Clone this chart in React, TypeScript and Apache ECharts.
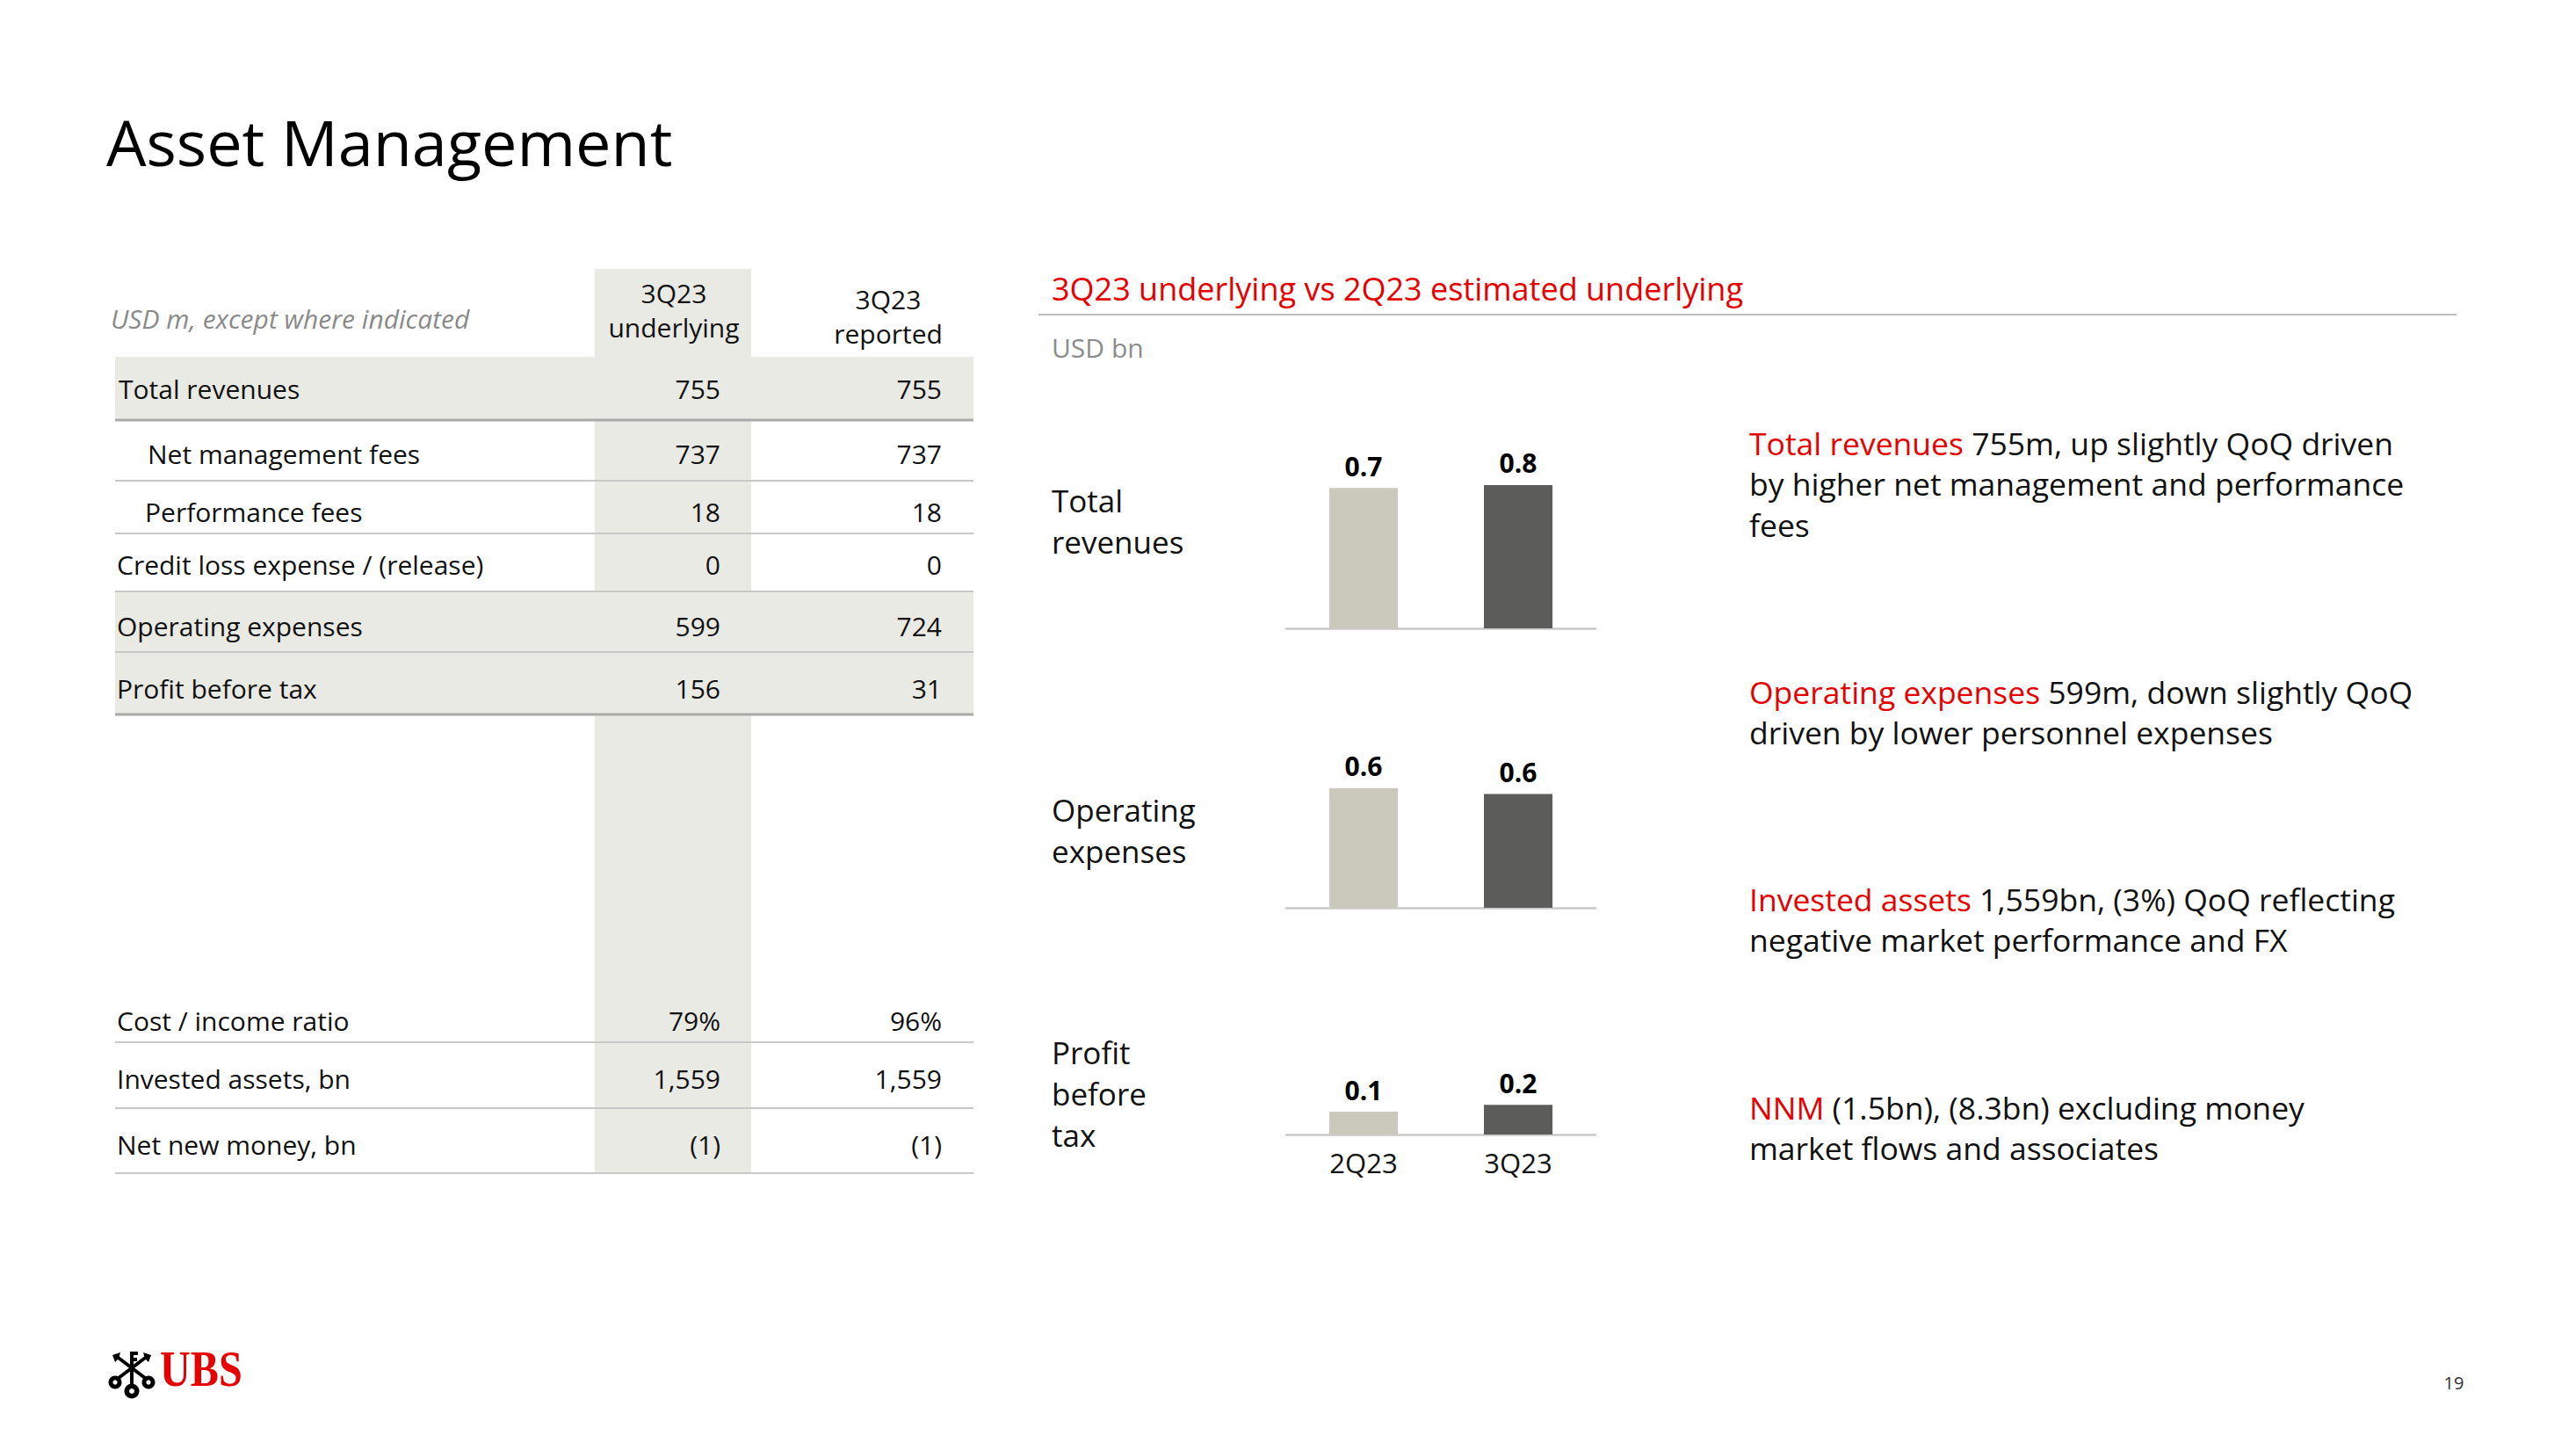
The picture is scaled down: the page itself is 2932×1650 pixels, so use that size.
import React, { useEffect, useRef } from "react";
import * as echarts from "echarts";

// ---------- data ----------
const quarters = ["2Q23", "3Q23"];
const panelLabels = ["Total\nrevenues", "Operating\nexpenses", "Profit\nbefore\ntax"];
const totalRevenues = [0.74, 0.755];
const operatingExpenses = [0.63, 0.599];
const profitBeforeTax = [0.12, 0.156];

const tableRowLabels = [
  "Total revenues",
  "Net management fees",
  "Performance fees",
  "Credit loss expense / (release)",
  "Operating expenses",
  "Profit before tax",
  "Cost / income ratio",
  "Invested assets, bn",
  "Net new money, bn",
];
const underlyingValues = ["755", "737", "18", "0", "599", "156", "79%", "1,559", "(1)"];
const reportedValues = ["755", "737", "18", "0", "724", "31", "96%", "1,559", "(1)"];
const columnHeaders = ["3Q23\nunderlying", "3Q23\nreported"];

const highlightWords = ["Total revenues", "Operating expenses", "Invested assets", "NNM"];
const commentary = [
  " 755m, up slightly QoQ driven\nby higher net management and performance\nfees",
  " 599m, down slightly QoQ\ndriven by lower personnel expenses",
  " 1,559bn, (3%) QoQ reflecting\nnegative market performance and FX",
  " (1.5bn), (8.3bn) excluding money\nmarket flows and associates",
];

// ---------- style ----------
const FONT = '"Open Sans", "Noto Sans", sans-serif';
const RED = "#E60000";
const LIGHT_BAR = "#CBC9BB";
const DARK_BAR = "#5C5D5B";
const SHADE = "#EAEAE5";

function txt(x: number, y: number, text: string, o: any = {}) {
  return {
    type: "text",
    x,
    y,
    z: 10,
    scaleX: o.scaleX ?? 1,
    style: {
      text,
      fontSize: o.fontSize ?? 30,
      fontFamily: o.fontFamily ?? FONT,
      fontWeight: o.fontWeight ?? "normal",
      fontStyle: o.fontStyle ?? "normal",
      fill: o.fill ?? "#000",
      textAlign: o.align ?? "left",
      textVerticalAlign: o.vAlign ?? "middle",
      lineHeight: o.lineHeight,
      rich: o.rich,
    },
  };
}

function rect(x: number, y: number, w: number, h: number, fill: string, z = 1) {
  return { type: "rect", z, shape: { x, y, width: w, height: h }, style: { fill } };
}

function hline(x1: number, x2: number, y: number, stroke: string, lw: number) {
  return {
    type: "line",
    z: 5,
    shape: { x1, y1: y, x2, y2: y },
    style: { stroke, lineWidth: lw },
  };
}

export default function App() {
  const ref = useRef<HTMLDivElement>(null);

  useEffect(() => {
    document.body.style.margin = "0";
    const chart = echarts.init(ref.current!, null, { renderer: "svg" });

    // ----- table layout -----
    const tblLeft = 131;
    const tblRight = 1108;
    const rowY = [442, 516, 582, 642, 712, 783, 1161, 1227, 1302];
    const rowX = [135, 168, 165, 133, 133, 133, 133, 133, 133];
    const lineY = [478, 547, 607, 673, 742, 813, 1186, 1261, 1335];
    const lineDark = [true, false, false, false, false, true, false, false, false];

    const graphic: any[] = [];
    // title
    graphic.push(txt(121, 161, "Asset Management", { fontSize: 72 }));
    // shaded column and bands
    graphic.push(rect(677, 306, 178, 1335 - 306, SHADE, 1));
    graphic.push(rect(tblLeft, 406, tblRight - tblLeft, 72, SHADE, 1));
    graphic.push(rect(tblLeft, 673, tblRight - tblLeft, 140, SHADE, 1));
    // header
    graphic.push(
      txt(126, 362, "USD m, except where indicated", { fontSize: 30, fontStyle: "italic", fill: "#8a8a8a" })
    );
    graphic.push(txt(767, 353, columnHeaders[0], { fontSize: 30, align: "center", lineHeight: 39, fill: "#111" }));
    graphic.push(txt(1011, 360, columnHeaders[1], { fontSize: 30, align: "center", lineHeight: 39, fill: "#111" }));
    // rows
    tableRowLabels.forEach((lab, i) => {
      graphic.push(txt(rowX[i], rowY[i], lab, { fontSize: 30, fill: "#111" }));
      graphic.push(txt(820, rowY[i], underlyingValues[i], { fontSize: 30, align: "right", fill: "#111" }));
      graphic.push(txt(1072, rowY[i], reportedValues[i], { fontSize: 30, align: "right", fill: "#111" }));
      graphic.push(hline(tblLeft, tblRight, lineY[i], lineDark[i] ? "#a9a9a9" : "#c8c8c8", lineDark[i] ? 3 : 2));
    });

    // ----- chart side texts -----
    graphic.push(txt(1197, 328, "3Q23 underlying vs 2Q23 estimated underlying", { fontSize: 36, fill: RED }));
    graphic.push(hline(1182, 2796, 358, "#bdbdbd", 2));
    graphic.push(txt(1197, 395, "USD bn", { fontSize: 30, fill: "#8c8c8c" }));
    const panelLabelY = [593, 945, 1244];
    panelLabels.forEach((lab, i) => {
      graphic.push(txt(1197, panelLabelY[i], lab, { fontSize: 35, lineHeight: 47, fill: "#111" }));
    });

    // commentary
    const paraY = [550, 810, 1046, 1283];
    highlightWords.forEach((w, i) => {
      graphic.push(
        txt(1991, paraY[i], `{r|${w}}${commentary[i]}`, {
          fontSize: 35.5,
          lineHeight: 46.5,
          fill: "#111",
          rich: { r: { fill: RED, fontSize: 35.5, fontFamily: FONT, lineHeight: 46.5 } },
        })
      );
    });

    // UBS logo
    const K = "#000";
    const logo: any[] = [];
    const dy = 5;
    [
      [131, 1568 + dy, 7.5],
      [150, 1578 + dy, 8.5],
      [169, 1568 + dy, 7.5],
    ].forEach(([cx, cy, r]) => {
      logo.push({ type: "circle", z: 10, shape: { cx, cy, r }, style: { fill: K } });
      logo.push({ type: "circle", z: 11, shape: { cx, cy, r: r * 0.35 }, style: { fill: "#fff" } });
    });
    logo.push({ type: "line", z: 10, shape: { x1: 150, y1: 1572 + dy, x2: 150, y2: 1533 + dy }, style: { stroke: K, lineWidth: 4 } });
    logo.push({ type: "line", z: 10, shape: { x1: 135, y1: 1563 + dy, x2: 168, y2: 1538 + dy }, style: { stroke: K, lineWidth: 4 } });
    logo.push({ type: "line", z: 10, shape: { x1: 165, y1: 1563 + dy, x2: 132, y2: 1538 + dy }, style: { stroke: K, lineWidth: 4 } });
    logo.push(rect(150, 1533 + dy, 7, 4, K, 10));
    logo.push(rect(150, 1540 + dy, 6, 4, K, 10));
    logo.push({ type: "polygon", z: 10, shape: { points: [[163, 1534 + dy], [172, 1537 + dy], [169, 1545 + dy], [165, 1541 + dy]] }, style: { fill: K } });
    logo.push({ type: "polygon", z: 10, shape: { points: [[137, 1534 + dy], [128, 1537 + dy], [131, 1545 + dy], [135, 1541 + dy]] }, style: { fill: K } });
    graphic.push(...logo);
    graphic.push(
      txt(182, 1586, "UBS", {
        fontSize: 56,
        fontFamily: '"Liberation Serif", "DejaVu Serif", serif',
        fontWeight: "bold",
        fill: RED,
        vAlign: "bottom",
        scaleX: 0.86,
      })
    );
    // page number
    graphic.push(txt(2793, 1573, "19", { fontSize: 20, align: "center", fill: "#333" }));

    // ----- bar panels -----
    const panels = [totalRevenues, operatingExpenses, profitBeforeTax];
    const baselines = [715, 1033, 1291];
    const unitPx = 216;
    const grids = baselines.map((b) => ({ left: 1464, width: 352, top: b - unitPx, height: unitPx }));
    const xAxes = baselines.map((_, i) => ({
      type: "category",
      gridIndex: i,
      data: quarters,
      axisTick: { show: false },
      axisLine: { show: true, lineStyle: { color: "#c9c9c9", width: 2.5 } },
      axisLabel: {
        show: i === 2,
        fontSize: 31,
        fontFamily: FONT,
        color: "#111",
        margin: 16,
      },
      splitLine: { show: false },
    }));
    const yAxes = baselines.map((_, i) => ({
      type: "value",
      gridIndex: i,
      min: 0,
      max: 1,
      show: false,
      splitLine: { show: false },
    }));
    const series = panels.map((vals, i) => ({
      type: "bar",
      xAxisIndex: i,
      yAxisIndex: i,
      barWidth: 78,
      data: vals.map((v, j) => ({ value: v, itemStyle: { color: j === 0 ? LIGHT_BAR : DARK_BAR } })),
      label: {
        show: true,
        position: "top",
        distance: 10,
        fontSize: 30,
        fontWeight: "bold",
        fontFamily: FONT,
        color: "#000",
        formatter: (p: any) => Number(p.value).toFixed(1),
      },
    }));

    chart.setOption({
      animation: false,
      backgroundColor: "#fff",
      grid: grids,
      xAxis: xAxes,
      yAxis: yAxes,
      series,
      graphic: { elements: graphic },
    });

    return () => chart.dispose();
  }, []);

  return <div ref={ref} style={{ width: 2932, height: 1650 }} />;
}
